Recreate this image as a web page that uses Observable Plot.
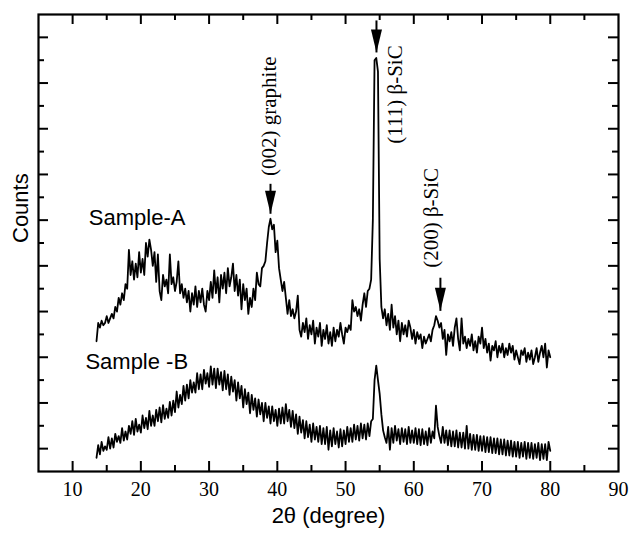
<!DOCTYPE html>
<html><head><meta charset="utf-8">
<script src="https://cdn.jsdelivr.net/npm/d3@7"></script>
<script src="https://cdn.jsdelivr.net/npm/@observablehq/plot@0.6"></script>
<style>body{margin:0;background:#fff}</style>
</head><body><div id="chart"></div>
<script>
// 2θ scan grid (degrees): first angle and step
const scanStart = 13.5;
const scanStep = 0.25;

// Sample-A counts (arbitrary units), one row per degree
const sampleA = [
  5.7, 6.5,
  6.3, 6.6, 6.4, 6.5,   // 14
  6.8, 6.5, 6.7, 6.9,   // 15
  6.7, 7.2, 7.0, 7.6,   // 16
  7.3, 7.8, 7.5, 8.2,   // 17
  8.0, 9.7, 8.6, 9.2,   // 18
  8.4, 9.1, 8.5, 9.6,   // 19
  8.7, 9.3, 8.6, 10.0,  // 20
  9.4, 10.15, 9.7, 9.0, // 21
  9.6, 8.3, 9.5, 7.9,   // 22
  7.5, 8.6, 8.1, 8.4,   // 23
  7.8, 9.5, 8.2, 8.5,   // 24
  7.9, 8.3, 9.2, 7.8,   // 25
  8.2, 7.6, 8.0, 7.4,   // 26
  7.9, 7.0, 7.8, 7.3,   // 27
  8.1, 7.2, 7.9, 7.4,   // 28
  8.0, 7.3, 7.0, 7.9,   // 29
  7.5, 8.3, 7.6, 8.8,   // 30
  7.8, 8.5, 7.4, 8.6,   // 31
  8.0, 8.7, 7.8, 8.9,   // 32
  8.1, 8.5, 9.1, 7.9,   // 33
  8.6, 7.7, 8.4, 7.1,   // 34
  8.2, 7.5, 8.0, 6.9,   // 35
  7.6, 7.2, 8.0, 7.5,   // 36
  8.7, 8.2, 8.1, 8.9,   // 37
  9.0, 9.2, 10.0, 10.7, // 38
  11.06, 10.6, 10.8, 9.6, // 39
  10.1, 8.9, 8.4, 7.9,  // 40
  8.3, 7.6, 6.9, 7.5,   // 41
  6.8, 7.1, 6.7, 7.0,   // 42
  7.7, 6.2, 5.9, 6.5,   // 43
  6.1, 6.7, 5.8, 6.4,   // 44
  6.0, 6.6, 5.6, 6.3,   // 45
  5.9, 6.5, 5.5, 6.2,   // 46
  5.8, 6.4, 5.6, 6.1,   // 47
  5.5, 6.3, 5.7, 6.2,   // 48
  5.9, 6.5, 6.0, 5.6,   // 49
  6.3, 6.1, 6.4, 6.2,   // 50
  7.5, 7.0, 7.2, 6.8,   // 51
  7.1, 6.6, 7.3, 7.8,   // 52
  7.2, 7.9, 8.0, 8.4,   // 53
  11.0, 18.0, 18.1, 17.5, // 54
  9.3, 7.2, 6.7, 7.1,   // 55
  6.4, 6.9, 6.2, 7.3,   // 56
  6.3, 6.8, 6.0, 6.6,   // 57
  5.7, 6.5, 6.0, 6.4,   // 58
  5.9, 6.6, 6.3, 5.8,   // 59
  6.2, 5.6, 6.1, 5.8,   // 60
  6.0, 5.4, 5.9, 5.6,   // 61
  5.8, 6.0, 5.7, 6.2,   // 62
  6.4, 6.8, 6.6, 6.3,   // 63
  6.5, 5.8, 6.2, 5.1,   // 64
  6.0, 5.7, 6.1, 5.5,   // 65
  6.3, 6.7, 5.8, 5.3,   // 66
  6.7, 5.6, 5.9, 5.4,   // 67
  5.8, 5.5, 6.0, 5.3,   // 68
  5.7, 5.2, 5.9, 5.6,   // 69
  6.3, 5.4, 5.8, 5.2,   // 70
  5.6, 4.85, 5.5, 5.3,  // 71
  5.7, 5.0, 5.5, 5.2,   // 72
  5.6, 5.0, 5.4, 5.1,   // 73
  5.6, 5.2, 5.5, 4.9,   // 74
  5.3, 5.0, 4.7, 5.3,   // 75
  5.1, 5.4, 4.8, 5.2,   // 76
  4.9, 5.3, 4.7, 5.0,   // 77
  5.4, 4.8, 5.2, 5.5,   // 78
  5.0, 5.6, 4.55, 5.3,  // 79
  5.0                   // 80
];

// Sample-B counts (arbitrary units), same grid
const sampleB = [
  0.6, 1.15,
  0.75, 1.3, 0.9, 1.1,  // 14
  0.95, 1.5, 1.0, 1.45, // 15
  1.05, 1.65, 1.3, 1.55,// 16
  1.25, 1.9, 1.35, 1.75,// 17
  1.4, 2.0, 1.65, 2.2,  // 18
  1.6, 2.3, 1.75, 2.05, // 19
  1.7, 2.45, 1.9, 2.35, // 20
  1.85, 2.65, 2.0, 2.45,// 21
  2.0, 2.7, 2.2, 2.8,   // 22
  2.15, 2.9, 2.3, 2.75, // 23
  2.35, 3.05, 2.45, 3.1,// 24
  2.6, 3.5, 2.8, 3.35,  // 25
  2.95, 3.75, 3.1, 3.8, // 26
  3.2, 4.0, 3.45, 3.9,  // 27
  3.45, 4.3, 3.6, 4.25, // 28
  3.6, 4.45, 3.85, 4.3, // 29
  3.7, 4.6, 3.8, 4.5,   // 30
  3.65, 4.5, 3.8, 4.35, // 31
  3.55, 4.4, 3.6, 4.25, // 32
  3.35, 4.15, 3.5, 4.0, // 33
  3.1, 3.9, 3.2, 3.75,  // 34
  2.8, 3.6, 2.95, 3.45, // 35
  2.55, 3.35, 2.7, 3.2, // 36
  2.4, 3.15, 2.5, 3.0,  // 37
  2.2, 3.0, 2.35, 2.85, // 38
  2.1, 2.85, 2.2, 2.7,  // 39
  2.0, 2.75, 2.1, 2.8,  // 40
  2.1, 2.95, 2.2, 2.7,  // 41
  1.95, 2.65, 1.9, 2.5, // 42
  1.65, 2.4, 1.7, 2.25, // 43
  1.45, 2.2, 1.5, 2.05, // 44
  1.3, 2.1, 1.4, 1.95,  // 45
  1.3, 2.0, 1.2, 1.9,   // 46
  1.2, 1.95, 0.95, 1.8, // 47
  1.1, 1.9, 1.2, 1.75,  // 48
  1.05, 1.85, 1.1, 1.8, // 49
  1.2, 1.95, 1.3, 1.9,  // 50
  1.3, 2.05, 1.4, 2.0,  // 51
  1.35, 2.1, 1.45, 2.05,// 52
  1.4, 2.1, 1.55, 2.2,  // 53
  2.3, 4.0, 4.63, 4.0,  // 54
  3.4, 2.5, 1.8, 1.5,   // 55
  1.25, 1.95, 0.95, 1.9,// 56
  1.25, 2.0, 1.35, 1.85,// 57
  1.2, 1.9, 1.3, 1.85,  // 58
  1.2, 1.95, 1.25, 1.8, // 59
  1.25, 1.9, 1.2, 1.85, // 60
  1.15, 1.85, 1.2, 1.75,// 61
  1.15, 1.9, 1.25, 1.75,// 62
  1.45, 2.88, 1.95, 1.55, // 63
  1.25, 1.95, 1.25, 1.8,// 64
  1.15, 1.8, 1.1, 1.75, // 65
  1.1, 1.8, 1.05, 1.7,  // 66
  1.05, 1.7, 1.0, 2.0,  // 67
  1.0, 1.65, 0.95, 1.6, // 68
  0.95, 1.6, 0.9, 1.55, // 69
  0.9, 1.55, 0.85, 1.5, // 70
  0.85, 1.5, 0.8, 1.45, // 71
  0.8, 1.45, 0.75, 1.4, // 72
  0.75, 1.4, 0.7, 1.35, // 73
  0.7, 1.35, 0.65, 1.3, // 74
  0.65, 1.3, 0.6, 1.25, // 75
  0.65, 1.3, 0.55, 1.25,// 76
  0.6, 1.25, 0.55, 1.2, // 77
  0.6, 1.25, 0.5, 1.2,  // 78
  0.55, 1.2, 0.5, 1.3,  // 79
  0.9                   // 80
];

// Axis ticks
const xTickLabels = [10, 20, 30, 40, 50, 60, 70, 80, 90];
const xMajorTicks = [10, 20, 30, 40, 50, 60, 70, 80];
const xMinorTicks = [15, 25, 35, 45, 55, 65, 75, 85];
const yMajorTicks = [1, 3, 5, 7, 9, 11, 13, 15, 17, 19];
const yMinorTicks = [2, 4, 6, 8, 10, 12, 14, 16, 18];

// Annotations
const seriesNames = ["Sample-A", "Sample -B"];
const seriesNameX = [19.45, 19.4];
const seriesNameY = [11.1, 4.8];
const peakNames = ["(002) graphite", "(111) β-SiC", "(200) β-SiC"];
const peakNameX = [38.78, 57.3, 62.6];
const peakNameY = [15.55, 16.5, 11.1];
const arrowX = [39.0, 54.53, 63.9];
const arrowTail = [12.59, 19.74, 8.48];
const arrowTip = [11.28, 18.34, 7.03];

const W = 632, H = 533;
const mL = 38, mR = 14, mT = 14, mB = 62;
const innerW = W - mL - mR, innerH = H - mT - mB;

const rowsA = sampleA.map((v, i) => ({t: scanStart + i * scanStep, c: v}));
const rowsB = sampleB.map((v, i) => ({t: scanStart + i * scanStep, c: v}));
const names = seriesNames.map((n, i) => ({n, x: seriesNameX[i], y: seriesNameY[i]}));
const peaks = peakNames.map((n, i) => ({n, x: peakNameX[i], y: peakNameY[i]}));
const arrows = arrowX.map((x, i) => ({x, y1: arrowTail[i], y2: arrowTip[i]}));

const head = {draw(ctx) { ctx.moveTo(-5.5, -23); ctx.lineTo(5.5, -23); ctx.lineTo(0, 0); ctx.closePath(); }};

const sans = "Liberation Sans, Arial, sans-serif";
const serif = "Liberation Serif, Times New Roman, serif";

const chart = Plot.plot({
  width: W, height: H,
  marginLeft: mL, marginRight: mR, marginTop: mT, marginBottom: mB,
  style: {background: "#fff", color: "#000", overflow: "visible"},
  x: {domain: [5, 90]},
  y: {domain: [0, 20], axis: null},
  marks: [
    Plot.line(rowsA, {x: "t", y: "c", stroke: "#000", strokeWidth: 1.8}),
    Plot.line(rowsB, {x: "t", y: "c", stroke: "#000", strokeWidth: 1.8}),
    // inward ticks
    Plot.tickX(xMajorTicks, {x: d => d, insetTop: innerH - 10, strokeWidth: 2}),
    Plot.tickX(xMinorTicks, {x: d => d, insetTop: innerH - 6, strokeWidth: 2}),
    Plot.tickX(xMajorTicks, {x: d => d, insetBottom: innerH - 10, strokeWidth: 2}),
    Plot.tickX(xMinorTicks, {x: d => d, insetBottom: innerH - 6, strokeWidth: 2}),
    Plot.tickY(yMajorTicks, {y: d => d, insetRight: innerW - 10, strokeWidth: 2}),
    Plot.tickY(yMinorTicks, {y: d => d, insetRight: innerW - 6, strokeWidth: 2}),
    Plot.tickY(yMajorTicks, {y: d => d, insetLeft: innerW - 10, strokeWidth: 2}),
    Plot.tickY(yMinorTicks, {y: d => d, insetLeft: innerW - 6, strokeWidth: 2}),
    Plot.frame({stroke: "#000", strokeWidth: 2.2}),
    Plot.axisX(xTickLabels, {tickSize: 0, tickPadding: 10, fontSize: 20, fontFamily: serif, label: null}),
    Plot.text(["Counts"], {frameAnchor: "left", dx: -18, rotate: -90, fontSize: 22, fontFamily: sans}),
    Plot.text(["2θ (degree)"], {frameAnchor: "bottom", dy: 51, fontSize: 22, fontFamily: sans}),
    Plot.text(names, {x: "x", y: "y", text: "n", fontSize: 22, fontFamily: sans}),
    Plot.text(peaks, {x: "x", y: "y", text: "n", rotate: -90, fontSize: 21, fontFamily: serif}),
    Plot.link(arrows, {x1: "x", x2: "x", y1: "y1", y2: "y2", strokeWidth: 2, stroke: "#000"}),
    Plot.dot(arrows, {x: "x", y: "y2", symbol: head, fill: "#000", stroke: "none", r: 6})
  ]
});
document.getElementById("chart").appendChild(chart);
</script>
</body></html>
